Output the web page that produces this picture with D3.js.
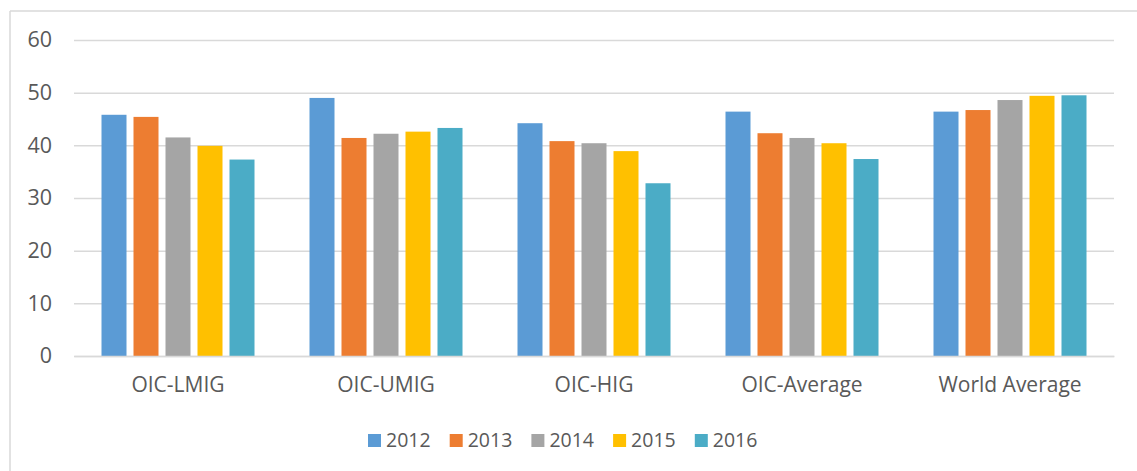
<!DOCTYPE html>
<html>
<head>
<meta charset="utf-8">
<script src="https://cdn.jsdelivr.net/npm/d3@7"></script>
<style>
  html, body { margin: 0; padding: 0; background: #fff; }
  svg { display: block; }
  text { font-family: "Open Sans", "Liberation Sans", sans-serif; fill: #595959; }
</style>
</head>
<body>
<svg id="chart" width="1137" height="471"></svg>
<script>
const categories = ["OIC-LMIG", "OIC-UMIG", "OIC-HIG", "OIC-Average", "World Average"];
const years = ["2012", "2013", "2014", "2015", "2016"];
const values2012 = [45.8, 49.0, 44.2, 46.4, 46.4];
const values2013 = [45.4, 41.4, 40.8, 42.3, 46.7];
const values2014 = [41.5, 42.2, 40.4, 41.4, 48.6];
const values2015 = [39.9, 42.6, 38.9, 40.4, 49.4];
const values2016 = [37.3, 43.3, 32.8, 37.4, 49.5];
const yTicks = [0, 10, 20, 30, 40, 50, 60];
const colors = ["#5B9BD5", "#ED7D31", "#A5A5A5", "#FFC000", "#4BACC6"];

const seriesValues = [values2012, values2013, values2014, values2015, values2016];
const data = categories.map((c, i) => ({
  category: c,
  values: years.map((y, j) => ({ year: y, value: seriesValues[j][i] }))
}));

const svg = d3.select("#chart");
const plotLeft = 74, plotRight = 1114, plotTop = 40, plotBottom = 356;
const fontFam = '"Open Sans", "Liberation Sans", sans-serif';

// frame (top and left visible)
svg.append("line").attr("x1", 10).attr("x2", 1137).attr("y1", 11).attr("y2", 11)
  .attr("stroke", "#d9d9d9").attr("stroke-width", 1.5);
svg.append("line").attr("x1", 10).attr("x2", 10).attr("y1", 11).attr("y2", 471)
  .attr("stroke", "#d9d9d9").attr("stroke-width", 1.5);

const x0 = d3.scaleBand().domain(categories).range([plotLeft, plotRight]).padding(0);
const bw = x0.bandwidth();
const x1 = d3.scaleBand().domain(years)
  .range([bw / 2 - 80, bw / 2 + 80])
  .paddingInner(0.21875).paddingOuter(0.109375);
const y = d3.scaleLinear().domain([0, 60]).range([plotBottom, plotTop]);

// gridlines
const yAxis = d3.axisLeft(y).tickValues(yTicks).tickSize(-(plotRight - plotLeft)).tickPadding(22).tickFormat(d3.format("d"));
const gy = svg.append("g").attr("transform", `translate(${plotLeft},0)`).call(yAxis);
gy.select(".domain").remove();
gy.selectAll(".tick line").attr("stroke", "#d9d9d9").attr("stroke-width", 1.5);
gy.selectAll(".tick text").attr("font-size", 21.5).attr("fill", "#595959")
  .style("font-family", fontFam);

// bars
const groups = svg.append("g").selectAll("g").data(data).join("g")
  .attr("transform", d => `translate(${x0(d.category)},0)`);
groups.selectAll("rect").data(d => d.values).join("rect")
  .attr("x", d => x1(d.year))
  .attr("width", x1.bandwidth())
  .attr("y", d => y(d.value))
  .attr("height", d => y(0) - y(d.value))
  .attr("fill", (d, i) => colors[i]);

// x axis
const xAxis = d3.axisBottom(x0).tickSize(0).tickPadding(21);
const gx = svg.append("g").attr("transform", `translate(0,${plotBottom})`).call(xAxis);
gx.select(".domain").attr("stroke", "#d9d9d9").attr("stroke-width", 1.5);
gx.selectAll(".tick text").attr("font-size", 21).attr("fill", "#595959")
  .style("font-family", fontFam);

// legend
const legend = svg.append("g").attr("transform", "translate(368,434)");
const items = legend.selectAll("g").data(years).join("g")
  .attr("transform", (d, i) => `translate(${i * 81.7},0)`);
items.append("rect").attr("width", 13).attr("height", 13).attr("fill", (d, i) => colors[i]);
items.append("text").attr("x", 18).attr("y", 6.5).attr("dy", "0.35em")
  .attr("font-size", 19.5).text(d => d);
</script>
</body>
</html>
